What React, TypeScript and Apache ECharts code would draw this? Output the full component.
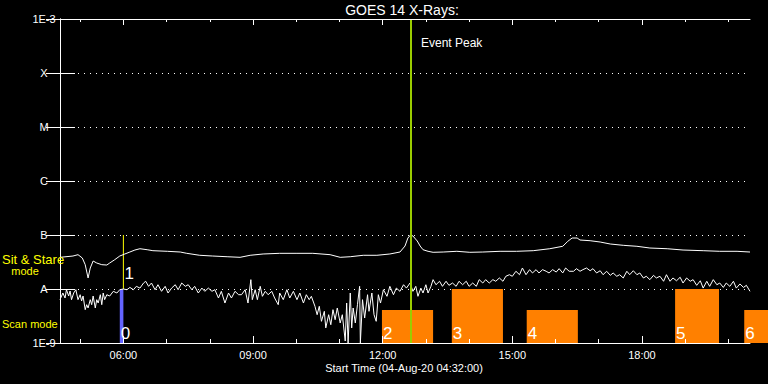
import React, { useEffect, useRef } from 'react';
import * as echarts from 'echarts';

// minutes since start time 04:32:00
const axisMaxMinutes = 958;
const hourTickMinutes = [28, 88, 148, 208, 268, 328, 388, 448, 508, 568, 628, 688, 748, 808, 868, 928];
const majorTickMinutes = [88, 268, 448, 628, 808];
const majorTickLabels = ['06:00', '09:00', '12:00', '15:00', '18:00'];

// log10 exponent -9..-3 -> label
const yTickLabels = ['1E-9', 'A', 'B', 'C', 'M', 'X', '1E-3'];

// GOES long channel (upper curve), [minutes, W/m^2]
const longChannel: [number, number][] = [
  [0, 3.86e-8], [18, 4.08e-8], [25, 4.32e-8], [31, 3.75e-8], [35, 2.82e-8], [39, 1.6e-8], [42, 2.45e-8],
  [46, 3.3e-8], [51, 3.03e-8], [58, 2.82e-8], [65, 2.78e-8], [69, 3.03e-8], [76, 3.49e-8], [83, 4.08e-8],
  [90, 4.45e-8], [97, 4.84e-8], [104, 5.27e-8], [111, 5.57e-8], [121, 5.34e-8], [129, 5.12e-8], [149, 4.99e-8],
  [167, 4.84e-8], [176, 4.58e-8], [194, 4.21e-8], [212, 4.08e-8], [232, 3.96e-8], [250, 3.86e-8], [264, 4.21e-8],
  [282, 4.45e-8], [305, 4.58e-8], [329, 4.58e-8], [351, 4.58e-8], [375, 4.32e-8], [389, 3.86e-8], [403, 3.96e-8],
  [421, 4.21e-8], [440, 4.21e-8], [458, 4.45e-8], [472, 4.84e-8], [479, 6.25e-8], [483, 8.79e-8], [487, 1.01e-7],
  [490, 9.58e-8], [496, 7.74e-8], [500, 6.25e-8], [504, 5.34e-8], [511, 4.99e-8], [518, 4.78e-8], [532, 4.84e-8],
  [551, 4.99e-8], [569, 4.78e-8], [587, 4.84e-8], [611, 4.99e-8], [634, 4.99e-8], [657, 5.12e-8], [680, 5.57e-8],
  [698, 6.18e-8], [705, 7.64e-8], [711, 8.79e-8], [718, 8.79e-8], [722, 8.07e-8], [736, 7.84e-8], [750, 7.41e-8],
  [764, 6.81e-8], [782, 6.44e-8], [801, 6.18e-8], [819, 5.74e-8], [843, 5.57e-8], [865, 5.27e-8], [893, 5.12e-8],
  [916, 4.99e-8], [940, 4.99e-8], [958, 4.84e-8],
];

// GOES short channel (lower curve), [minutes, W/m^2]
const shortChannel: [number, number][] = [
  [0, 6.34e-9], [4, 8.43e-9], [7, 6.81e-9], [9, 9.7e-9], [12, 7.41e-9], [14, 9.18e-9], [16, 6.34e-9], [19, 8.43e-9],
  [22, 9.7e-9], [25, 6.34e-9], [28, 7.84e-9], [30, 6.0e-9], [32, 7.41e-9], [35, 4.14e-9], [37, 5.12e-9], [39, 4.45e-9],
  [42, 6.34e-9], [44, 5.12e-9], [46, 7.41e-9], [49, 4.45e-9], [51, 6.34e-9], [53, 5.5e-9], [56, 7.84e-9], [58, 5.12e-9],
  [60, 8.43e-9], [62, 6.34e-9], [65, 7.84e-9], [69, 7.41e-9], [74, 9.06e-9], [79, 8.43e-9], [83, 9.7e-9], [88, 1.0e-8],
  [93, 9.7e-9], [97, 1.07e-8], [102, 9.7e-9], [106, 1.12e-8], [111, 1.04e-8], [116, 1.29e-8], [119, 1.39e-8],
  [123, 1.12e-8], [127, 1.29e-8], [132, 9.7e-9], [136, 1.2e-8], [141, 9.06e-9], [146, 1.12e-8], [150, 8.43e-9],
  [155, 1.04e-8], [160, 1.2e-8], [164, 9.7e-9], [169, 1.29e-8], [174, 1.12e-8], [178, 1.2e-8], [183, 9.7e-9],
  [187, 1.12e-8], [192, 8.43e-9], [197, 1.04e-8], [201, 9.06e-9], [206, 1.04e-8], [211, 9.06e-9], [215, 9.7e-9],
  [220, 6.81e-9], [224, 9.06e-9], [229, 5.5e-9], [234, 8.43e-9], [238, 6.81e-9], [243, 9.06e-9], [248, 7.84e-9],
  [252, 7.84e-9], [257, 9.7e-9], [261, 5.5e-9], [265, 1.49e-8], [267, 6.34e-9], [271, 9.7e-9], [274, 6.34e-9],
  [278, 1.12e-8], [281, 7.32e-9], [285, 9.06e-9], [289, 7.84e-9], [294, 9.06e-9], [298, 6.81e-9], [303, 5.12e-9],
  [305, 8.43e-9], [310, 6.34e-9], [315, 9.7e-9], [319, 6.81e-9], [324, 9.06e-9], [329, 6.34e-9], [333, 8.43e-9],
  [338, 5.5e-9], [342, 7.84e-9], [346, 6.34e-9], [349, 7.32e-9], [354, 4.78e-9], [357, 3.34e-9], [360, 4.78e-9],
  [363, 2.52e-9], [367, 3.86e-9], [369, 1.9e-9], [373, 3.34e-9], [376, 2.18e-9], [379, 4.14e-9], [382, 2.7e-9],
  [385, 4.45e-9], [389, 2.35e-9], [392, 3.34e-9], [396, 1.09e-9], [398, 5.5e-9], [400, 1.0e-9], [403, 8.43e-9],
  [405, 1.9e-9], [407, 4.45e-9], [410, 2.35e-9], [413, 5.12e-9], [416, 1.12e-8], [417, 1.0e-9], [420, 6.34e-9],
  [423, 2.9e-9], [427, 7.84e-9], [429, 3.86e-9], [433, 8.43e-9], [436, 3.34e-9], [439, 2.52e-9], [442, 7.84e-9],
  [445, 5.5e-9], [449, 9.7e-9], [454, 7.32e-9], [458, 1.12e-8], [463, 7.84e-9], [467, 1.04e-8], [472, 9.06e-9],
  [477, 1.2e-8], [481, 1.04e-8], [486, 1.29e-8], [490, 9.06e-9], [494, 1.12e-8], [497, 7.32e-9], [501, 1.04e-8],
  [504, 8.43e-9], [508, 1.2e-8], [511, 8.43e-9], [515, 1.12e-8], [518, 1.49e-8], [522, 1.2e-8], [527, 1.39e-8],
  [531, 1.12e-8], [536, 1.39e-8], [540, 1.17e-8], [545, 1.29e-8], [550, 1.12e-8], [554, 1.39e-8], [559, 1.2e-8],
  [564, 1.39e-8], [568, 1.12e-8], [573, 1.29e-8], [578, 1.12e-8], [582, 1.49e-8], [587, 1.29e-8], [591, 1.49e-8],
  [596, 1.29e-8], [601, 1.49e-8], [605, 1.39e-8], [610, 1.6e-8], [615, 1.39e-8], [619, 1.72e-8], [624, 1.84e-8],
  [628, 1.72e-8], [633, 2.13e-8], [638, 1.84e-8], [642, 2.45e-8], [647, 1.84e-8], [652, 2.28e-8], [656, 1.98e-8],
  [661, 2.28e-8], [665, 1.98e-8], [670, 2.28e-8], [675, 2.13e-8], [679, 1.98e-8], [684, 2.28e-8], [689, 2.06e-8],
  [693, 2.38e-8], [698, 1.98e-8], [702, 2.45e-8], [707, 2.13e-8], [713, 2.13e-8], [717, 2.38e-8], [722, 2.13e-8],
  [726, 2.28e-8], [731, 2.45e-8], [736, 2.18e-8], [740, 2.38e-8], [745, 1.98e-8], [750, 2.18e-8], [754, 1.84e-8],
  [759, 2.13e-8], [764, 1.79e-8], [768, 1.98e-8], [773, 1.72e-8], [777, 1.84e-8], [782, 1.6e-8], [787, 2.13e-8],
  [791, 1.84e-8], [796, 2.18e-8], [801, 1.84e-8], [805, 1.98e-8], [810, 1.6e-8], [814, 1.72e-8], [819, 1.49e-8],
  [824, 1.79e-8], [828, 1.6e-8], [833, 1.72e-8], [838, 1.39e-8], [842, 1.84e-8], [847, 1.39e-8], [851, 1.6e-8],
  [856, 1.42e-8], [861, 1.65e-8], [865, 1.29e-8], [870, 1.6e-8], [875, 1.39e-8], [879, 1.49e-8], [884, 1.17e-8],
  [889, 1.42e-8], [893, 1.04e-8], [898, 1.39e-8], [902, 1.12e-8], [907, 1.49e-8], [912, 1.2e-8], [916, 1.29e-8],
  [921, 1.07e-8], [925, 1.29e-8], [930, 1.12e-8], [935, 1.39e-8], [939, 1.04e-8], [944, 1.24e-8], [949, 1.07e-8],
  [953, 1.17e-8], [958, 9.06e-9],
];

const eventPeakMinute = 487;

// scan-mode observations
const obsStart = [83, 447, 544, 648, 854, 950];
const obsEnd = [88, 518, 615, 719, 915, 1000];
const obsTop = [1e-8, 4.1e-9, 1e-8, 4.1e-9, 1e-8, 4.1e-9];
const obsLabels = ['0', '2', '3', '4', '5', '6'];
const obsGroup = [0, 1, 1, 1, 1, 1];

// sit & stare observations
const sitStart = [88];
const sitBottom = [1e-8];
const sitTop = [1e-7];
const sitLabels = ['1'];

const FONT = 'Liberation Sans';
const obsPalette = ['#6464ff', '#ff8000'];

export default function App() {
  const ref = useRef<HTMLDivElement>(null);
  useEffect(() => {
    document.body.style.margin = '0';
    document.body.style.background = '#000';
    const chart = echarts.init(ref.current!, null, { renderer: 'svg' });
    const white = { color: '#ffffff', width: 1 };
    const baseX = { type: 'value', min: 0, max: axisMaxMinutes, z: 10, splitLine: { show: false } };
    const option: any = {
      animation: false,
      backgroundColor: '#000000',
      grid: { left: 60, right: 18, top: 19, bottom: 41, containLabel: false },
      xAxis: [
        { ...baseX, position: 'bottom', axisLine: { show: true, onZero: false, lineStyle: white },
          axisTick: { show: true, inside: true, length: 4, customValues: hourTickMinutes, lineStyle: white },
          axisLabel: { show: false } },
        { ...baseX, position: 'bottom', axisLine: { show: false, onZero: false },
          axisTick: { show: true, inside: true, length: 7, customValues: majorTickMinutes, lineStyle: white },
          axisLabel: { show: true, customValues: majorTickMinutes, color: '#fff', fontSize: 11, fontFamily: FONT, margin: 6,
            formatter: (v: number) => { const i = majorTickMinutes.indexOf(Math.round(v)); return i >= 0 ? majorTickLabels[i] : ''; } } },
        { ...baseX, position: 'top', axisLine: { show: true, onZero: false, lineStyle: white },
          axisTick: { show: true, inside: true, length: 3, customValues: hourTickMinutes, lineStyle: white },
          axisLabel: { show: false } },
        { ...baseX, position: 'top', axisLine: { show: false, onZero: false },
          axisTick: { show: true, inside: true, length: 6, customValues: majorTickMinutes, lineStyle: white },
          axisLabel: { show: false } },
      ],
      yAxis: [
        { type: 'log', logBase: 10, min: 1e-9, max: 1e-3, splitNumber: 6, position: 'left',
          axisLine: { show: true, lineStyle: white },
          axisTick: { show: true, inside: true, length: 15, lineStyle: white },
          axisLabel: { show: true, color: '#fff', fontSize: 11, fontFamily: FONT, align: 'center', margin: 16,
            formatter: (v: number) => yTickLabels[Math.round(Math.log10(v)) + 9] ?? '' },
          splitLine: { show: true, lineStyle: { color: '#ffffff', width: 1, type: [1, 5] } } },
        { type: 'log', logBase: 10, min: 1e-9, max: 1e-3, splitNumber: 6, position: 'right',
          axisLine: { show: true, lineStyle: white },
          axisTick: { show: true, inside: true, length: 14, lineStyle: white },
          axisLabel: { show: false }, splitLine: { show: false } },
      ],
      series: [
        {
          type: 'custom', name: 'scan', clip: false, z: 2,
          encode: { x: [0, 1], y: 2 },
          data: obsStart.map((s, i) => [s, obsEnd[i], obsTop[i]]),
          renderItem: (params: any, api: any) => {
            const i = params.dataIndex;
            const a = api.coord([api.value(0), api.value(2)]);
            const b = api.coord([api.value(1), 1e-9]);
            return {
              type: 'group',
              children: [
                { type: 'rect', shape: { x: a[0], y: a[1], width: b[0] - a[0], height: b[1] - a[1] },
                  style: { fill: obsPalette[obsGroup[i]] } },
                { type: 'text', x: a[0] + 1, y: b[1] - 9.5,
                  style: { text: obsLabels[i], fill: '#ffffff', fontSize: 17, fontFamily: FONT, align: 'left', verticalAlign: 'middle' } },
              ],
            };
          },
        },
        {
          type: 'custom', name: 'sit', clip: false, z: 3,
          encode: { x: 0, y: [1, 2] },
          data: sitStart.map((s, i) => [s, sitBottom[i], sitTop[i]]),
          renderItem: (params: any, api: any) => {
            const i = params.dataIndex;
            const a = api.coord([api.value(0), api.value(1)]);
            const b = api.coord([api.value(0), api.value(2)]);
            return {
              type: 'group',
              children: [
                { type: 'line', shape: { x1: a[0], y1: a[1], x2: b[0], y2: b[1] },
                  style: { stroke: '#ffff00', lineWidth: 1 } },
                { type: 'text', x: a[0] + 1, y: a[1] - 15.5,
                  style: { text: sitLabels[i], fill: '#ffffff', fontSize: 17, fontFamily: FONT, align: 'left', verticalAlign: 'middle' } },
              ],
            };
          },
        },
        {
          type: 'line', name: 'long', data: longChannel, showSymbol: false, symbol: 'none', z: 4,
          lineStyle: { color: '#ffffff', width: 1 },
        },
        {
          type: 'line', name: 'short', data: shortChannel, showSymbol: false, symbol: 'none', z: 4,
          lineStyle: { color: '#ffffff', width: 1 },
          markLine: {
            silent: true, symbol: 'none', animation: false, z: 6,
            label: { show: false },
            lineStyle: { color: '#9acd00', width: 2, type: 'solid' },
            data: [{ xAxis: eventPeakMinute }],
          },
        },
      ],
      graphic: [
        { type: 'text', x: 402, y: 10, z: 20,
          style: { text: 'GOES 14 X-Rays:', fill: '#ffffff', fontSize: 14, fontFamily: FONT, align: 'center', verticalAlign: 'middle' } },
        { type: 'text', x: 421, y: 43, z: 20,
          style: { text: 'Event Peak', fill: '#ffffff', fontSize: 12, fontFamily: FONT, align: 'left', verticalAlign: 'middle' } },
        { type: 'text', x: 404, y: 368, z: 20,
          style: { text: 'Start Time (04-Aug-20 04:32:00)', fill: '#ffffff', fontSize: 11, fontFamily: FONT, align: 'center', verticalAlign: 'middle' } },
        { type: 'text', x: 2, y: 259, z: 20,
          style: { text: 'Sit & Stare', fill: '#ffff00', fontSize: 13, fontFamily: FONT, align: 'left', verticalAlign: 'middle' } },
        { type: 'text', x: 25, y: 271, z: 20,
          style: { text: 'mode', fill: '#ffff00', fontSize: 11, fontFamily: FONT, align: 'center', verticalAlign: 'middle' } },
        { type: 'text', x: 2, y: 324, z: 20,
          style: { text: 'Scan mode', fill: '#ffff00', fontSize: 11, fontFamily: FONT, align: 'left', verticalAlign: 'middle' } },
      ],
    };
    chart.setOption(option);
    return () => chart.dispose();
  }, []);
  return <div ref={ref} style={{ width: 768, height: 384 }} />;
}
